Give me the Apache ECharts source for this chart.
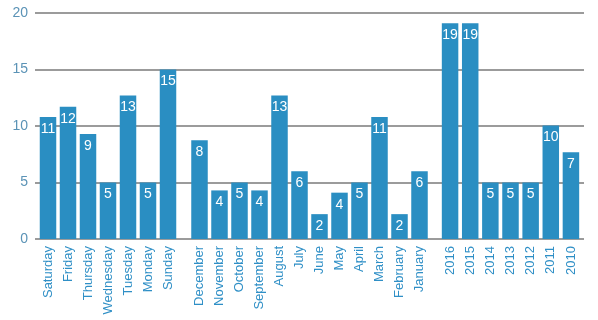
<!DOCTYPE html>
<html><head><meta charset="utf-8">
<script src="https://cdn.jsdelivr.net/npm/echarts@6/dist/echarts.min.js"></script>
<style>html,body{margin:0;padding:0;background:#fff}#c{width:598px;height:320px}</style>
</head><body><div id="c"></div>
<script>
var dayCats = ['Saturday','Friday','Thursday','Wednesday','Tuesday','Monday','Sunday'];
var dayVals = [10.8, 11.7, 9.3, 5, 12.7, 5, 15];
var dayLabels = [11, 12, 9, 5, 13, 5, 15];

var monthCats = ['December','November','October','September','August','July','June','May','April','March','February','January'];
var monthVals = [8.75, 4.3, 5, 4.3, 12.7, 6, 2.2, 4.1, 5, 10.8, 2.2, 6];
var monthLabels = [8, 4, 5, 4, 13, 6, 2, 4, 5, 11, 2, 6];

var yearCats = ['2016','2015','2014','2013','2012','2011','2010'];
var yearVals = [19.1, 19.1, 5, 5, 5, 10.05, 7.67];
var yearLabels = [19, 19, 5, 5, 5, 10, 7];

var yTicks = [0, 5, 10, 15, 20];

var BAR = '#2a8ec2';
var FONT = 'Liberation Sans';
var chart = echarts.init(document.getElementById('c'));

var groups = [
  {cats: dayCats, vals: dayVals, labels: dayLabels, left: 38, width: 140},
  {cats: monthCats, vals: monthVals, labels: monthLabels, left: 189.5, width: 240},
  {cats: yearCats, vals: yearVals, labels: yearLabels, left: 440, width: 141}
];

var grid = [{left: 35, right: 14, top: 13, bottom: 81}];
var xAxis = [{type: 'value', gridIndex: 0, show: false, min: 0, max: 1}];
var yAxis = [{
  type: 'value', gridIndex: 0, min: yTicks[0], max: yTicks[yTicks.length - 1], interval: 5,
  axisLine: {show: false}, axisTick: {show: false},
  axisLabel: {color: '#5b93b6', fontSize: 14, fontFamily: FONT, margin: 7},
  splitLine: {show: true, lineStyle: {color: '#7a7a7a', width: 1.5}}
}];
var series = [];

groups.forEach(function (g, i) {
  var gi = i + 1;
  grid.push({left: g.left, width: g.width, top: 13, bottom: 81});
  xAxis.push({
    type: 'category', gridIndex: gi, data: g.cats,
    axisLine: {show: false}, axisTick: {show: false},
    axisLabel: {rotate: 90, color: '#2f8fc6', fontSize: 13, fontFamily: FONT, margin: 7, interval: 0}
  });
  yAxis.push({type: 'value', gridIndex: gi, min: 0, max: 20, show: false, splitLine: {show: false}});
  series.push({
    type: 'bar', xAxisIndex: gi, yAxisIndex: gi, data: g.vals, barWidth: 16.5,
    itemStyle: {color: BAR},
    label: {
      show: true, position: 'insideTop', distance: 5, color: '#fff', fontSize: 14, fontFamily: FONT,
      formatter: (function (labs) { return function (p) { return labs[p.dataIndex]; }; })(g.labels)
    },
    silent: true, animation: false
  });
});

chart.setOption({animation: false, grid: grid, xAxis: xAxis, yAxis: yAxis, series: series});
</script></body></html>
